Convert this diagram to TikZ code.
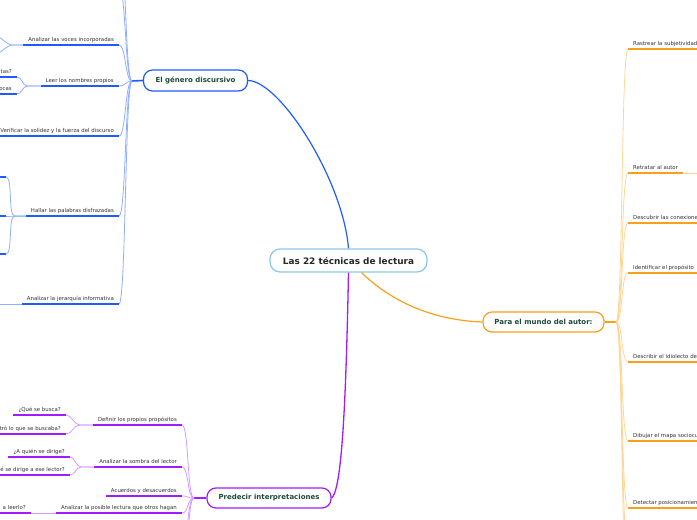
\documentclass[tikz,border=0pt]{standalone}
\usepackage{fontspec}
\setmainfont{DejaVu Sans}
\definecolor{bl}{HTML}{1F5BFF}
\definecolor{blL}{HTML}{8FAEFF}
\definecolor{orr}{HTML}{F7A11A}
\definecolor{orL}{HTML}{FFD596}
\definecolor{pu}{HTML}{A01CFF}
\definecolor{puL}{HTML}{D49BFF}
\definecolor{cb}{HTML}{8EC6EA}
\definecolor{dg}{HTML}{1E4A3C}
\definecolor{txt}{HTML}{333333}
\tikzset{
  sub/.style={inner xsep=5pt, inner ysep=2pt, font=\fontsize{5.4}{6}\selectfont, text=txt, text height=3.9pt, text depth=1.1pt},
  subL/.style={sub, anchor=south east},
  subR/.style={sub, anchor=south west},
  topic/.style={rounded corners=9pt, fill=white, line width=1.2pt, inner sep=0pt, minimum height=20pt, font=\fontsize{7}{8}\bfseries, text=dg},
  ulB/.style={draw=bl, line width=1.6pt},
  ulO/.style={draw=orr, line width=1.6pt},
  ulP/.style={draw=pu, line width=1.6pt},
  lnB/.style={draw=blL, line width=0.8pt},
  lnO/.style={draw=orL, line width=0.8pt},
  lnP/.style={draw=puL, line width=0.8pt},
}
\begin{document}
\begin{tikzpicture}[x=1pt,y=-1pt]
\useasboundingbox (0,0) rectangle (697,520);
\clip (0,0) rectangle (697,520);

% ---------- main nodes ----------
\node[draw=cb, rounded corners=10pt, fill=white, line width=1.2pt, inner sep=0pt, minimum width=157pt, minimum height=23pt, font=\fontsize{8.9}{10}\bfseries, text=black!85] (c) at (348.5,260.5) {Las 22 técnicas de lectura};
\node[topic, draw=bl, minimum width=104pt, minimum height=21pt] (gen) at (195.5,80.5) {El género discursivo};
\node[topic, draw=orr, minimum width=121pt] (para) at (543.5,322) {Para el mundo del autor:};
\node[topic, draw=pu, minimum width=124pt] (pred) at (269,498) {Predecir interpretaciones};

% ---------- main connectors ----------
\draw[bl, line width=1.2pt] (gen.east) .. controls (280,81) and (343,180) .. (c.north);
\draw[pu, line width=1.3pt] (c.south) .. controls (346,400) and (342,490) .. (pred.east);
\draw[orr, line width=1.2pt] ([xshift=13pt]c.south) .. controls (390,300) and (430,320) .. (para.west);

% ---------- blue branch ----------
\coordinate (bR) at (132,81);
\draw[bl, line width=1.6pt] (gen.west) -- (bR);
\node[subL] (bA) at (119,45) {Analizar las voces incorporadas};
\node[subL] (bB) at (119,86) {Leer los nombres propios};
\node[subL] (bC) at (119,136) {Verificar la solidez y la fuerza del discurso};
\node[subL] (bD) at (119,216) {Hallar las palabras disfrazadas};
\node[subL] (bE) at (119,304) {Analizar la jerarquía informativa};
\coordinate (bH1) at (119,-12);
\coordinate (bH2) at (119,-60);
\foreach \n in {bA,bB,bC,bD,bE} {
  \draw[lnB] (bR) .. controls +(-7,0) and +(7,0) .. (\n.south east);
  \draw[ulB] (\n.south west) -- (\n.south east);
}
\foreach \n in {bH1,bH2} {
  \draw[lnB] (bR) .. controls +(-7,0) and +(7,0) .. (\n);
}
% children of bA
\coordinate (bA1) at (-4,36);
\coordinate (bA2) at (-4,54);
\draw[lnB] (bA.south west) -- ++(-11,0) .. controls +(-5,0) and +(4,0) .. (bA1);
\draw[lnB] (bA.south west) -- ++(-11,0) .. controls +(-5,0) and +(4,0) .. (bA2);
% children of bB
\node[subL] (bB1) at (17,77) {tas?};
\node[subL] (bB2) at (17,94) {ocas};
\draw[ulB] (bB1.south west) -- (bB1.south east);
\draw[ulB] (bB2.south west) -- (bB2.south east);
\draw[lnB] (bB.south west) -- ++(-13,0) .. controls +(-5,0) and +(5,0) .. (bB1.south east);
\draw[lnB] (bB.south west) -- ++(-13,0) .. controls +(-5,0) and +(5,0) .. (bB2.south east);
% children of bD
\coordinate (bD1) at (6,177);
\coordinate (bD2) at (6,216);
\coordinate (bD3) at (6,254);
\coordinate (bD1l) at (-6,177);
\coordinate (bD2l) at (-6,216);
\coordinate (bD3l) at (-6,254);
\draw[ulB] (bD1l) -- (bD1);
\draw[ulB] (bD2l) -- (bD2);
\draw[ulB] (bD3l) -- (bD3);
\draw[lnB] (bD.south west) -- ++(-11,0) .. controls +(-7,0) and +(7,0) .. (bD1);
\draw[lnB] (bD.south west) -- ++(-11,0) -- (bD2);
\draw[lnB] (bD.south west) -- ++(-11,0) .. controls +(-7,0) and +(7,0) .. (bD3);
% child of bE
\coordinate (bE1) at (-6,304);
\draw[lnB] (bE.south west) -- (bE1);

% ---------- purple branch ----------
\coordinate (pR) at (194,498);
\draw[pu, line width=1.6pt] (pred.west) -- (pR);
\node[subL] (pA) at (182,425) {Definir los propios propósitos};
\node[subL] (pB) at (182,467) {Analizar la sombra del lector};
\node[subL] (pC) at (182,496) {Acuerdos y desacuerdos};
\node[subL] (pD) at (182,513) {Analizar la posible lectura que otros hagan};
\coordinate (pH1) at (182,540);
\coordinate (pH2) at (182,575);
\foreach \n in {pA,pB,pC,pD} {
  \draw[lnP] (pR) .. controls +(-7,0) and +(7,0) .. (\n.south east);
  \draw[ulP] (\n.south west) -- (\n.south east);
}
\foreach \n in {pH1,pH2} {
  \draw[lnP] (pR) .. controls +(-7,0) and +(7,0) .. (\n);
}
\node[subL] (pA1) at (66,415) {¿Qué se busca?};
\node[subL] (pA2) at (66,434) {ntró lo que se buscaba?};
\node[subL] (pB1) at (70,457) {¿A quién se dirige?};
\node[subL] (pB2) at (70,475) {é se dirige a ese lector?};
\node[subL] (pD1) at (31,513) {a leerlo?};
\foreach \n in {pA1,pA2,pB1,pB2,pD1} {
  \draw[ulP] (\n.south west) -- (\n.south east);
}
\draw[lnP] (pA.south west) -- ++(-13,0) .. controls +(-6,0) and +(6,0) .. (pA1.south east);
\draw[lnP] (pA.south west) -- ++(-13,0) .. controls +(-6,0) and +(6,0) .. (pA2.south east);
\draw[lnP] (pB.south west) -- ++(-13,0) .. controls +(-5,0) and +(5,0) .. (pB1.south east);
\draw[lnP] (pB.south west) -- ++(-13,0) .. controls +(-5,0) and +(5,0) .. (pB2.south east);
\draw[lnP] (pD.south west) -- (pD1.south east);

% ---------- orange branch ----------
\coordinate (oR) at (616,322);
\draw[orr, line width=1.6pt] (para.east) -- (oR);
\node[subR] (oA) at (628,49) {Rastrear la subjetividad};
\node[subR] (oB) at (628,173) {Retratar al autor};
\node[subR] (oC) at (628,223) {Descubrir las conexiones};
\node[subR] (oD) at (628,273) {Identificar el propósito};
\node[subR] (oE) at (628,362) {Describir el idiolecto del};
\node[subR] (oF) at (628,441) {Dibujar el mapa sociocultural};
\node[subR] (oG) at (628,508) {Detectar posicionamientos};
\coordinate (oH1) at (628,545);
\coordinate (oH2) at (628,590);
\foreach \n in {oA,oB,oC,oD,oE,oF,oG} {
  \draw[lnO] (oR) .. controls +(7,0) and +(-7,0) .. (\n.south west);
  \draw[ulO] (\n.south west) -- (\n.south east);
}
\foreach \n in {oH1,oH2} {
  \draw[lnO] (oR) .. controls +(7,0) and +(-7,0) .. (\n);
}
\coordinate (oB1) at (705,173);
\draw[lnO] (oB.south east) -- (oB1);
\end{tikzpicture}
\end{document}
